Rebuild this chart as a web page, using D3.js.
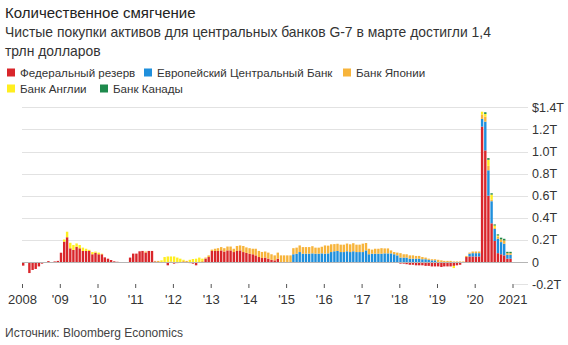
<!DOCTYPE html>
<html>
<head>
<meta charset="utf-8">
<script src="https://cdn.jsdelivr.net/npm/d3@7"></script>
<style>
  body { margin: 0; background: #fff; }
  svg { display: block; font-family: "Liberation Sans", Arial, sans-serif; }
</style>
</head>
<body>
<svg id="chart" width="568" height="345"></svg>
<script>
// ---- Data (billions of USD, monthly net asset purchases, Jan 2008 – Dec 2020) ----
const startMonth = "2008-01-01";
const seriesNames = ["Федеральный резерв", "Европейский Центральный Банк", "Банк Японии", "Банк Англии", "Банк Канады"];
const seriesColors = ["#d9262b", "#1f8fdc", "#f7b43b", "#ffee1f", "#1e8a4c"];

const fed = [
  -33, 0, -100, -72, -63, -40, -15, 0, 8, 0, 5, 10,           // 2008
  84, 184, 224, 124, 109, 138, 124, 100, 100, 100, 70, 84,    // 2009
  70, 70, 42, 30, 18, 6, 2, 0, 0, 0, 40, 76,                  // 2010
  76, 97, 100, 85, 100, 100, 5, 0, 0, 0, -30, 0,              // 2011
  -15, -10, 0, 0, 0, -10, -15, -30, 0, 0, 30, 45,             // 2012
  100, 100, 100, 105, 95, 105, 105, 90, 100, 105, 90, 82,     // 2013
  75, 70, 60, 45, 36, 40, 30, 20, 15, 30, 0, 0,               // 2014
  0, 0, 0, -5, 0, 0, 0, 0, 0, 0, 0, 0,                        // 2015
  0, 0, 0, 0, 0, 0, 0, 0, 0, 0, 0, 0,                         // 2016
  0, -5, 0, 0, 0, 0, 0, 0, 0, 0, 0, -5,                       // 2017
  -15, -15, -20, -25, -25, -30, -30, -30, -35, -35, -40, -40, // 2018
  -40, -45, -40, -40, -40, -35, -30, -25, -5, 45, 50, 50,     // 2019
  50, 50, 1225, 1010, 600, 350, 190, 80, 70, 60, 30, 30       // 2020
];
const ecb = [
  0,0,0,0,0,0,0,0,0,0,0,0,                                    // 2008
  0,0,0,0,0,0,0,0,0,0,0,0,                                    // 2009
  0,0,0,0,0,0,0,0,0,0,0,0,                                    // 2010
  0,0,0,0,0,0,0,0,0,0,0,0,                                    // 2011
  0,0,0,0,0,0,0,0,0,0,0,0,                                    // 2012
  0,0,0,0,0,0,0,0,0,0,0,0,                                    // 2013
  0,0,0,0,0,0,0,0,0,0,0,0,                                    // 2014
  0, 0, 70, 75, 90, 75, 75, 75, 78, 75, 75, 78,               // 2015
  75, 78, 90, 97, 100, 90, 90, 97, 90, 97, 90, 90,            // 2016
  90, 105, 70, 75, 75, 75, 75, 78, 78, 78, 70, 60,            // 2017
  40, 40, 40, 30, 30, 30, 30, 25, 25, 20, 15, 15,             // 2018
  0, 0, 0, 0, 0, 0, 0, 0, 0, 0, 25, 30,                       // 2019
  30, 30, 70, 260, 230, 200, 110, 130, 110, 105, 35, 35       // 2020
];
const boj = [
  0,0,0,0,0,0,0,0,0,0,0,0,                                    // 2008
  0,0,0,0,0,0,0,0,0,0,0,0,                                    // 2009
  0,0,0,0,0,0,0,0,0,0,0,0,                                    // 2010
  0, 0, 0, 10, 0, 0, 5, 10, 0, 0, 0, 5,                       // 2011
  0, 0, 0, 10, 10, 0, 0, 0, 0, 10, 10, 15,                    // 2012
  12, 20, 25, 30, 30, 35, 35, 30, 45, 45, 55, 50,             // 2013
  50, 50, 60, 55, 55, 55, 55, 50, 45, 55, 60, 60,             // 2014
  60, 60, 55, 55, 60, 60, 60, 60, 65, 55, 55, 60,             // 2015
  75, 70, 70, 65, 65, 67, 67, 70, 70, 73, 67, 67,             // 2016
  76, 67, 50, 37, 45, 45, 50, 45, 45, 27, 20, 25,             // 2017
  40, 30, 30, 30, 30, 25, 25, 20, 15, 10, 10, 10,             // 2018
  20, 15, 10, 10, 10, 5, 5, 5, 5, 10, 10, 15,                 // 2019
  15, 15, 40, 45, 40, 15, 10, 20, 25, 30, 15, 15              // 2020
];
const boe = [
  0,0,0,0,0,0,0,0,0,0,0,0,                                    // 2008
  0, 20, 50, 50, 45, 30, 30, 30, 20, 10, 20, 10,              // 2009
  15, 5, 0, 0, 0, 0, 0, 0, 0, 0, 0, 0,                        // 2010
  0, 0, 0, 0, 0, 0, 0, 0, 15, 45, 50, 45,                     // 2011
  50, 40, 30, 10, 0, 20, 27, 30, 40, 20, 0, 0,                // 2012
  0,0,0,0,0,0,0,0,0,0,0,0,                                    // 2013
  0,0,0,0,0,0,0,0,0,0,0,0,                                    // 2014
  0,0,0,0,0,0,0,0,0,0,0,0,                                    // 2015
  0,0,0,0,0,0,0,0,0,0,0,0,                                    // 2016
  0,0,0,0,0,0,0,0,0,0,0,0,                                    // 2017
  0,0,0,0,0,0,0,0,0,0,0,0,                                    // 2018
  0, 0, 0, 0, 0, -20, 0, 0, 0, 0, 0, 0,                       // 2019
  0, 0, 25, 25, 55, 45, 20, 10, 0, 0, 0, 0                    // 2020
];
const boc = [
  0,0,0,0,0,0,0,0,0,0,0,0, 0,0,0,0,0,0,0,0,0,0,0,0,
  0,0,0,0,0,0,0,0,0,0,0,0, 0,0,0,0,0,0,0,0,0,0,0,0,
  0,0,0,0,0,0,0,0,0,0,0,0, 0,0,0,0,0,0,0,0,0,0,0,0,
  0,0,0,0,0,0,0,0,0,0,0,0, 0,0,0,0,0,0,0,0,0,0,0,0,
  0,0,0,0,0,0,0,0,0,0,0,0, 0,0,0,0,0,0,0,0,0,0,0,0,
  0,0,0,0,0,0,0,0,0,0,0,0, 0,0,0,0,0,0,0,0,0,0,0,0,
  0, 0, 0, 15, 15, 12, 10, 10, 15, 15, 12, 12                 // 2020
];

const yTickValues = [-0.2, 0, 0.2, 0.4, 0.6, 0.8, 1.0, 1.2, 1.4];
const yTickLabels = ["-0.2T", "0", "0.2T", "0.4T", "0.6T", "0.8T", "1.0T", "1.2T", "$1.4T"];
const xTickYears = [2008, 2009, 2010, 2011, 2012, 2013, 2014, 2015, 2016, 2017, 2018, 2019, 2020, 2021];
const xTickLabels = ["2008", "'09", "'10", "'11", "'12", "'13", "'14", "'15", "'16", "'17", "'18", "'19", "'20", "2021"];

const titleText = "Количественное смягчение";
const subtitleLines = ["Чистые покупки активов для центральных банков G-7 в марте достигли 1,4", "трлн долларов"];
const sourceText = "Источник: Bloomberg Economics";

// ---- Build table ----
const months = d3.timeMonth.range(new Date(startMonth + "T00:00:00"), new Date(2021, 0, 1));
const allSeries = [fed, ecb, boj, boe, boc];
const keys = ["fed", "ecb", "boj", "boe", "boc"];
const table = months.map((d, i) => {
  const row = { date: d };
  keys.forEach((k, j) => row[k] = allSeries[j][i] / 1000);
  return row;
});

const svg = d3.select("#chart");
const x = d3.scaleTime().domain([new Date(2008, 0, 1), new Date(2021, 0, 1)]).range([22, 512.5]);
const y = d3.scaleLinear().domain([-0.2, 1.4]).range([284.1, 107.3]);
const color = d3.scaleOrdinal().domain(keys).range(seriesColors);

// Title
svg.append("text").attr("x", 5).attr("y", 18).attr("font-size", 15).attr("fill", "#222").text(titleText);
subtitleLines.forEach((t, i) => {
  svg.append("text").attr("x", 5).attr("y", 37 + i * 19).attr("font-size", 13.9).attr("fill", "#333").text(t);
});

// Legend
const legendLayout = [[7, 73], [144, 73], [343, 73], [7, 89], [100, 89]];
seriesNames.forEach((name, i) => {
  const g = svg.append("g").attr("transform", `translate(${legendLayout[i][0]},${legendLayout[i][1]})`);
  g.append("rect").attr("x", 0).attr("y", -4.5).attr("width", 8).attr("height", 8).attr("fill", seriesColors[i]);
  g.append("text").attr("x", 13).attr("y", 4.2).attr("font-size", 11.6).attr("fill", "#333").text(name);
});

// Gridlines
svg.append("g").selectAll("line").data(yTickValues.filter(v => v >= 0)).join("line")
  .attr("x1", 22).attr("x2", 528)
  .attr("y1", d => Math.round(y(d)) + 0.5).attr("y2", d => Math.round(y(d)) + 0.5)
  .attr("stroke", "#e2e2e2").attr("stroke-width", 1);
svg.append("line").attr("x1", 514).attr("x2", 528)
  .attr("y1", Math.round(y(-0.2)) + 0.5).attr("y2", Math.round(y(-0.2)) + 0.5)
  .attr("stroke", "#e2e2e2");

// Y axis labels
const yAxis = d3.axisRight(y).tickValues(yTickValues).tickSize(0).tickPadding(0)
  .tickFormat((d, i) => yTickLabels[i]);
const yG = svg.append("g").attr("transform", "translate(532,0)").call(yAxis);
yG.select(".domain").remove();
yG.selectAll("text").attr("font-size", 12.5).attr("fill", "#333").attr("font-family", "Liberation Sans, Arial, sans-serif");

// Bars
const stack = d3.stack().keys(keys).offset(d3.stackOffsetDiverging);
const layers = stack(table);
const barW = 2.4;
svg.append("g").selectAll("g").data(layers).join("g")
  .attr("fill", d => color(d.key))
  .selectAll("rect").data(d => d).join("rect")
  .attr("x", d => x(d.data.date))
  .attr("width", barW)
  .attr("y", d => y(Math.max(d[0], d[1])))
  .attr("height", d => Math.abs(y(d[0]) - y(d[1])));

// Zero line
svg.append("line").attr("x1", 22).attr("x2", 528)
  .attr("y1", Math.round(y(0)) + 0.5).attr("y2", Math.round(y(0)) + 0.5)
  .attr("stroke", "#b5b5b5").attr("stroke-width", 1);

// X axis
const xAxis = d3.axisBottom(x)
  .tickValues(xTickYears.map(yr => new Date(yr, 0, 1)))
  .tickSize(4).tickPadding(7)
  .tickFormat((d, i) => xTickLabels[i]);
const xG = svg.append("g").attr("transform", "translate(0,284)").call(xAxis);
xG.select(".domain").remove();
xG.selectAll(".tick line").attr("stroke", "#555");
xG.selectAll("text").attr("font-size", 13).attr("fill", "#333").attr("font-family", "Liberation Sans, Arial, sans-serif");

// Source
svg.append("text").attr("x", 5).attr("y", 337).attr("font-size", 12).attr("fill", "#444").text(sourceText);
</script>
</body>
</html>
